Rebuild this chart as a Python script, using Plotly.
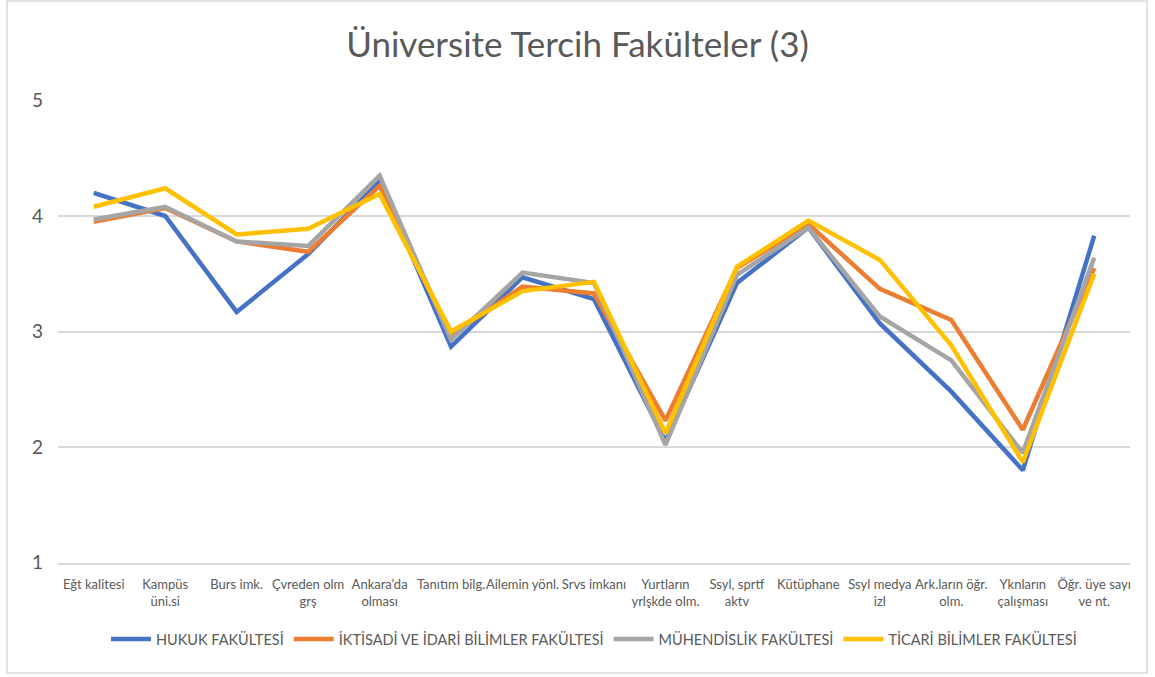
import plotly.graph_objects as go

categories = ["Eğt kalitesi", "Kampüs<br>üni.si", "Burs imk.", "Çvreden olm<br>grş", "Ankara’da<br>olması",
              "Tanıtım bilg.", "Ailemin yönl.", "Srvs imkanı", "Yurtların<br>yrlşkde olm.", "Ssyl, sprtf<br>aktv",
              "Kütüphane", "Ssyl medya<br>izl", "Ark.ların öğr.<br>olm.", "Yknların<br>çalışması", "Öğr. üye sayı<br>ve nt."]

hukuk = [4.20, 4.00, 3.17, 3.67, 4.30, 2.87, 3.47, 3.28, 2.05, 3.42, 3.90, 3.07, 2.48, 1.80, 3.83]
iktisadi = [3.95, 4.07, 3.78, 3.69, 4.26, 2.97, 3.39, 3.33, 2.23, 3.55, 3.93, 3.37, 3.10, 2.15, 3.55]
muhendislik = [3.97, 4.08, 3.78, 3.74, 4.35, 2.93, 3.51, 3.42, 2.02, 3.49, 3.90, 3.13, 2.75, 1.95, 3.64]
ticari = [4.08, 4.24, 3.84, 3.89, 4.19, 3.00, 3.35, 3.43, 2.12, 3.56, 3.96, 3.62, 2.88, 1.87, 3.50]

series = [
    ("HUKUK FAKÜLTESİ", hukuk, "#4472C4"),
    ("İKTİSADİ VE İDARİ BİLİMLER FAKÜLTESİ", iktisadi, "#ED7D31"),
    ("MÜHENDİSLİK FAKÜLTESİ", muhendislik, "#A5A5A5"),
    ("TİCARİ BİLİMLER FAKÜLTESİ", ticari, "#FFC000"),
]

fig = go.Figure()
for name, vals, color in series:
    fig.add_trace(go.Scatter(x=categories, y=vals, mode="lines", name=name,
                             line=dict(color=color, width=4.5)))

font_family = "Lato, 'Open Sans', sans-serif"
W, H = 1155, 677
L, R, T, B = 58, 25, 100, 114
pw, ph = W - L - R, H - T - B

fig.update_layout(
    width=W, height=H,
    paper_bgcolor="white", plot_bgcolor="white",
    margin=dict(l=L, r=R, t=T, b=B, autoexpand=False),
    font=dict(family=font_family, color="#595959"),
    title=dict(text="Üniversite Tercih Fakülteler (3)", x=0.5, xanchor="center",
               y=1 - 45 / H, yanchor="middle",
               font=dict(size=35, color="#595959", family=font_family)),
    showlegend=True,
    legend=dict(orientation="h", x=0.5, xanchor="center", y=-(639 - 563) / ph, yanchor="middle",
                font=dict(size=14.5, color="#595959"), itemwidth=40),
    xaxis=dict(showgrid=False, showline=True, linecolor="#D9D9D9", linewidth=1.5,
               ticks="", tickfont=dict(size=13, color="#595959"), ticklabelstandoff=9,
               tickangle=0, range=[-0.5, len(categories) - 0.5], automargin=False),
    yaxis=dict(range=[0.997, 5.004], tickvals=[1, 2, 3, 4, 5], showgrid=True, gridcolor="#D9D9D9",
               gridwidth=1.5, zeroline=False, showline=False, tickfont=dict(size=19, color="#595959"),
               ticklabelstandoff=14, automargin=False),
    shapes=[dict(type="rect", xref="paper", yref="paper",
                 x0=(7 - L) / pw, x1=(1147 - L) / pw,
                 y0=(563 - 673) / ph, y1=(563 - 1) / ph,
                 line=dict(color="#D9D9D9", width=1.5), fillcolor="rgba(0,0,0,0)", layer="below")],
)

fig.write_html("out.html", config={"displayModeBar": False},
               post_script="document.body.style.margin='0';")
